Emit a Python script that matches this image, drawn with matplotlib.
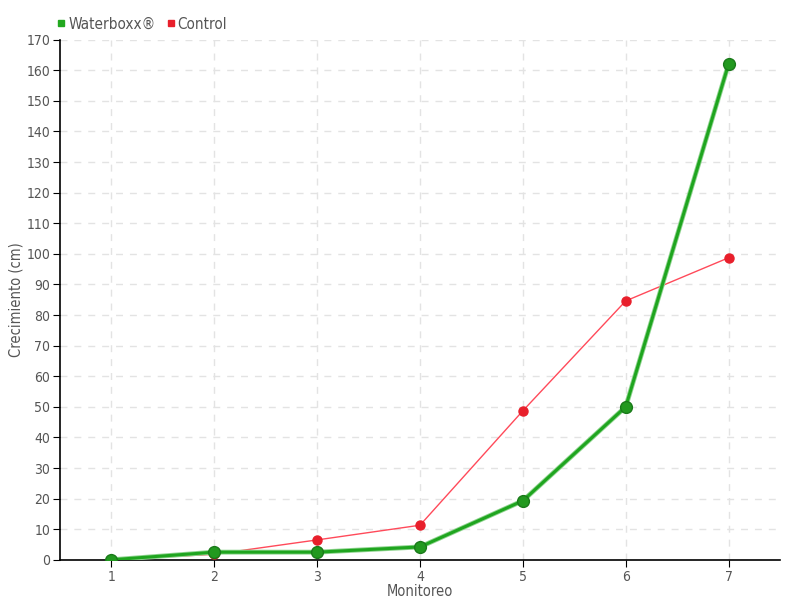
import matplotlib
matplotlib.use("Agg")
import matplotlib.pyplot as plt
from matplotlib.lines import Line2D

monitoreo = [1, 2, 3, 4, 5, 6, 7]
waterboxx = [0, 2.5, 2.5, 4.2, 19.3, 50, 162]
control = [0, 1.8, 6.5, 11.3, 48.7, 84.6, 98.7]

plt.rcParams['font.family'] = ['DejaVu Sans']
plt.rcParams['font.stretch'] = 'condensed'
txt = '#555555'

fig = plt.figure(figsize=(8, 6), dpi=100)
ax = fig.add_axes([0.075, 0.067, 0.9, 0.867])

ax.plot(monitoreo, control, color='#ff4a5a', lw=1, zorder=3)
ax.plot(monitoreo, control, 'o', color='#e81f2b', ms=6.5, zorder=4)
ax.plot(monitoreo, waterboxx, color='#8fd48f', lw=3.5, zorder=5)
ax.plot(monitoreo, waterboxx, color='#1fa51f', lw=2.2, zorder=6)
ax.plot(monitoreo, waterboxx, 'o', color='#22991f', mec='#1a7a1a', mew=1, ms=8.5, zorder=7)

ax.set_xlim(0.5, 7.5)
ax.set_ylim(0, 170)
ax.set_xticks(monitoreo)
ax.set_yticks(range(0, 171, 10))
ax.grid(True, color='#e3e3e3', ls=(0, (5, 5)), lw=1)
ax.set_axisbelow(True)
for s in ['top', 'right']:
    ax.spines[s].set_visible(False)
ax.spines['left'].set_linewidth(1.2)
ax.spines['bottom'].set_linewidth(1.2)
ax.tick_params(colors=txt, labelsize=10, length=5, pad=2)
ax.tick_params(axis='both', color='black')
ax.set_xlabel('Monitoreo', color=txt, fontsize=10.5)
ax.set_ylabel('Crecimiento (cm)', color=txt, fontsize=10.5)
ax.xaxis.set_label_coords(0.5, -0.047)
ax.yaxis.set_label_coords(-0.05, 0.5)

handles = [Line2D([], [], marker='s', ls='', color='#22a81f', ms=5),
           Line2D([], [], marker='s', ls='', color='#e81f2b', ms=5)]
fig.legend(handles, ['Waterboxx®', 'Control'], loc='upper left',
           bbox_to_anchor=(0.052, 0.995), ncol=2, frameon=False,
           handletextpad=0.05, columnspacing=0.6, fontsize=11,
           labelcolor=txt, handlelength=0.8)

fig.savefig('out.png')
